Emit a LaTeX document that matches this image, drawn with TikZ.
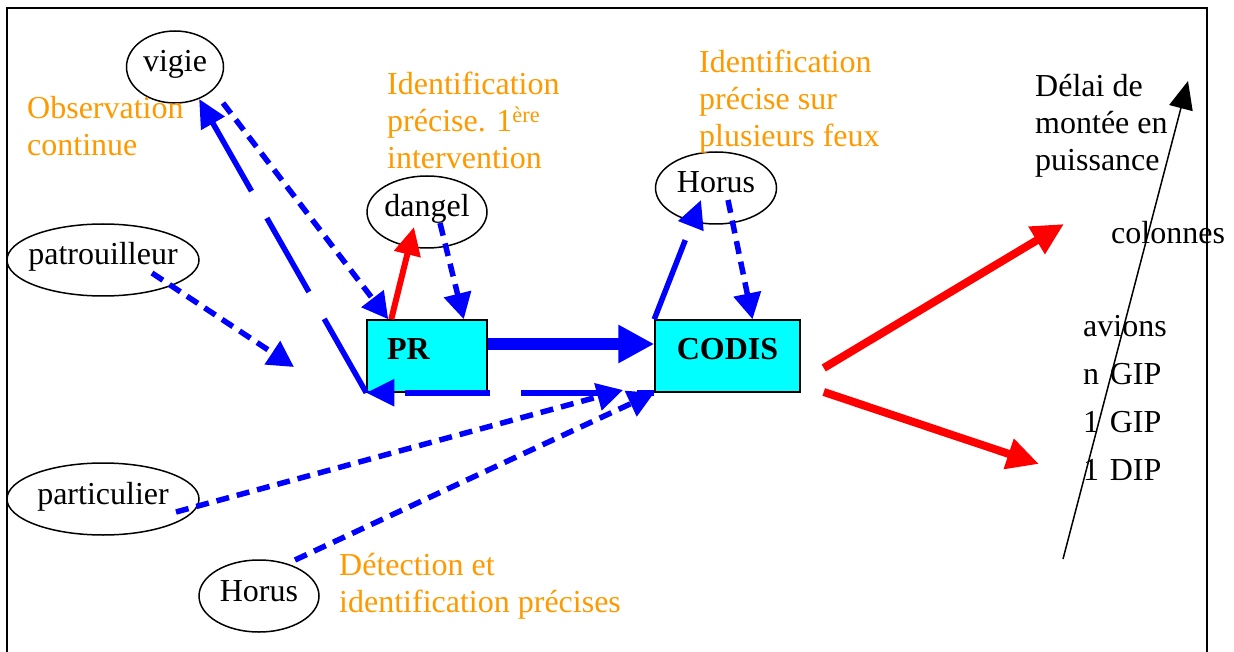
\documentclass[tikz,border=0pt]{standalone}
\usepackage{fontspec}
\setmainfont{Liberation Serif}
\usepackage{tikz}
\usetikzlibrary{arrows.meta,positioning,shapes.geometric}
\definecolor{orangeclair}{RGB}{255,153,0}
\definecolor{cyanvif}{RGB}{0,255,255}
\newcommand{\taille}{\fontsize{32}{37}\selectfont}
\tikzset{every node/.style={font=\taille},
bulle/.style={ellipse,draw,line width=1.5pt,minimum height=72pt,inner sep=0pt,
  text height=16pt,text depth=6pt,
  execute at begin node={\hbox to 0pt\bgroup\hss},execute at end node={\hss\egroup}},
boite/.style={rectangle,draw,line width=1.5pt,fill=cyanvif,font=\taille\bfseries,
  minimum height=72pt,text height=14pt,text depth=8pt},
remarque/.style={anchor=north west,align=left,inner sep=0pt,text=orangeclair},
liste/.style={text width=90pt,align=left,inner sep=0pt,text height=11pt,text depth=11pt},
tiret/.style={blue,line width=5.5pt,dash pattern=on 13pt off 8pt,-{Triangle[length=26pt,width=27pt]}},
trait/.style={blue,line width=5.5pt,dash pattern=on 85pt off 31pt,-{Triangle[length=28pt,width=26pt]}},
gros/.style={blue,line width=12pt,-{Triangle[length=36pt,width=36pt]}},
rouge/.style={red,line width=8pt,-{Triangle[length=32pt,width=30pt]}}
}
\begin{document}
\begin{tikzpicture}[x=1pt,y=-1pt,node distance=48pt,on grid]
          \useasboundingbox (0,0) rectangle (1234,652);
          \draw[line width=2pt] (7,652) -- (7,8) -- (1207,8) -- (1207,652);

          \node[bulle,minimum width=97pt]  (vigie)        at (175,67)  {vigie};
          \node[bulle,minimum width=120pt] (dangel)       at (427,212) {dangel};
          \node[bulle,minimum width=192pt] (patrouilleur) at (103,260) {patrouilleur};
          \node[bulle,minimum width=121pt] (horus1)       at (716,188) {Horus};
          \node[bulle,minimum width=192pt] (particulier)  at (103,499) {particulier};
          \node[bulle,minimum width=120pt] (horus2)       at (259,596) {Horus};

          \node[boite,minimum width=120pt,text width=80pt,inner xsep=20pt,align=left] (pr) at (427,356) {PR};
          \node[boite,minimum width=145pt] (codis) [right=300.5pt of pr] {CODIS};

          \node[remarque] (observation) at (27,96)  {Observation\\continue};
          \node[remarque] (ident1)      at (387,72) {Identification\\précise. 1\textsuperscript{ère}\\intervention};
          \node[remarque] (ident2)      at (699,50) {Identification\\précise sur\\plusieurs feux};
          \node[remarque] (detection)   at (339,553) {Détection et\\identification précises};
          \node[remarque,text=black] (delai) at (1035,74) {Délai de\\montée en\\puissance};

          \node[liste,anchor=west] (colonnes) at (1111,244) {colonnes};
          \node[liste,anchor=west] (avions)   at (1083,336) {avions};
          \node[liste] (ngip) [below=of avions] {n GIP};
          \node[liste] (gip)  [below=of ngip]   {1 GIP};
          \node[liste] (dip)  [below=of gip]    {1 DIP};

          \coordinate (p1) at (294,367);
          \coordinate (p2) at (623,390);
          \coordinate (r1) at (1064,224);
          \coordinate (r2) at (1039,464);
          \coordinate (a0) at (1063,559);
          \coordinate (a1) at (1188,81);

          \draw[tiret] ([xshift=48pt,yshift=-36pt]vigie.center) -- ([xshift=22pt]pr.north west);
          \draw[tiret] ([xshift=13pt,yshift=-11pt]dangel.center) -- ([xshift=-24pt]pr.north east);
          \draw[tiret] ([xshift=12pt,yshift=-12pt]horus1.center) -- ([xshift=25pt]codis.north);
          \draw[tiret] ([xshift=49pt,yshift=-13pt]patrouilleur.center) -- (p1);
          \draw[tiret] ([xshift=73pt,yshift=-13pt]particulier.center) -- (p2);
          \draw[tiret] ([xshift=36pt,yshift=36pt]horus2.center) -- (codis.south west);

          \draw[trait] (pr.south west) -- (vigie.-53);
          \draw[trait,dash phase=68pt] (codis.south west) -- (pr.south west);
          \draw[trait] (codis.north west) -- ([xshift=-15pt,yshift=-12pt]horus1.center);

          \draw[gros] ([yshift=12pt]pr.east) -- ([yshift=12pt]codis.west);
          \draw[rouge,line width=6pt,-{Triangle[length=28pt,width=26pt]}] ([xshift=25pt]pr.north west) -- ([xshift=-13pt,yshift=-15pt]dangel.center);
          \draw[rouge] ([xshift=23pt,yshift=-12pt]codis.east) -- (r1);
          \draw[rouge] ([xshift=23pt,yshift=-36pt]codis.east) -- (r2);

          \draw[line width=1.5pt,-{Triangle[length=28pt,width=24pt]}] (a0) -- (a1);
        \end{tikzpicture}
\end{document}
